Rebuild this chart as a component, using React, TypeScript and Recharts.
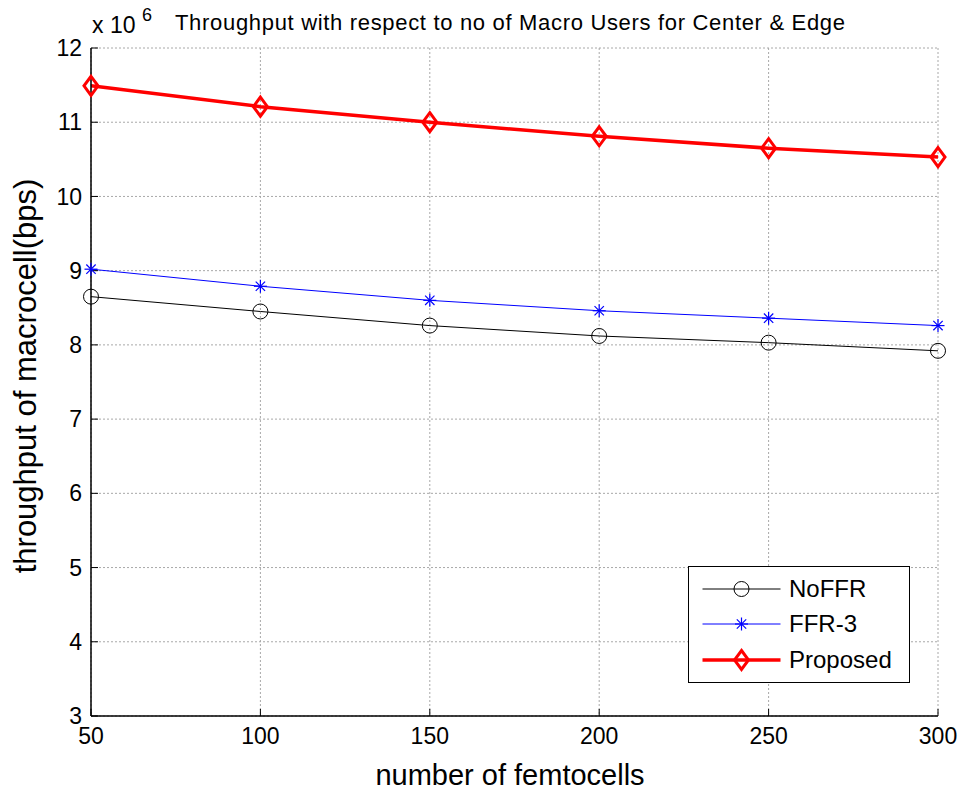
import { LineChart, Line, XAxis, YAxis, CartesianGrid, Legend } from 'recharts';

const femtocells = [50, 100, 150, 200, 250, 300];
const noFFR = [8.65e6, 8.45e6, 8.26e6, 8.12e6, 8.03e6, 7.92e6];
const ffr3 = [9.02e6, 8.79e6, 8.6e6, 8.46e6, 8.36e6, 8.26e6];
const proposed = [11.49e6, 11.21e6, 11.0e6, 10.81e6, 10.65e6, 10.53e6];

const xTicks = [50, 100, 150, 200, 250, 300];
const yTicks = [3e6, 4e6, 5e6, 6e6, 7e6, 8e6, 9e6, 10e6, 11e6, 12e6];

const data = femtocells.map((n, i) => ({ n, noFFR: noFFR[i], ffr3: ffr3[i], proposed: proposed[i] }));

const FONT = '"Liberation Sans", Arial, Helvetica, sans-serif';

type MarkerProps = { cx?: number; cy?: number };

function CircleMarker({ cx = 0, cy = 0 }: MarkerProps) {
  return <circle cx={cx} cy={cy} r={7.5} fill="none" stroke="#000" strokeWidth={1} />;
}

function StarMarker({ cx = 0, cy = 0 }: MarkerProps) {
  const r = 6.5;
  const d = r * 0.72;
  return (
    <g stroke="#0000ff" strokeWidth={1.2}>
      <line x1={cx} y1={cy - r} x2={cx} y2={cy + r} />
      <line x1={cx - r} y1={cy} x2={cx + r} y2={cy} />
      <line x1={cx - d} y1={cy - d} x2={cx + d} y2={cy + d} />
      <line x1={cx - d} y1={cy + d} x2={cx + d} y2={cy - d} />
    </g>
  );
}

function DiamondMarker({ cx = 0, cy = 0 }: MarkerProps) {
  const rx = 7;
  const ry = 9.5;
  return (
    <path
      d={`M${cx},${cy - ry}L${cx + rx},${cy}L${cx},${cy + ry}L${cx - rx},${cy}Z`}
      fill="none"
      stroke="#ff0000"
      strokeWidth={3}
    />
  );
}

const series = [
  { key: 'noFFR', name: 'NoFFR', color: '#000000', width: 1, Marker: CircleMarker },
  { key: 'ffr3', name: 'FFR-3', color: '#0000ff', width: 1, Marker: StarMarker },
  { key: 'proposed', name: 'Proposed', color: '#ff0000', width: 3.5, Marker: DiamondMarker },
];

function LegendBox() {
  return (
    <div
      style={{
        width: 222,
        height: 117,
        boxSizing: 'border-box',
        border: '1.5px solid #000',
        background: '#fff',
        paddingTop: 4,
      }}
    >
      {series.map((s) => (
        <div key={s.key} style={{ display: 'flex', alignItems: 'center', height: 35.5 }}>
          <svg width={100} height={30} style={{ display: 'block' }}>
            <line x1={13.5} x2={91.5} y1={15} y2={15} stroke={s.color} strokeWidth={s.width} />
            <s.Marker cx={52.5} cy={15} />
          </svg>
          <span style={{ fontSize: 24, fontFamily: FONT, color: '#000', lineHeight: 1 }}>{s.name}</span>
        </div>
      ))}
    </div>
  );
}

const tickStyle = { fontSize: 23, fill: '#000', fontFamily: FONT };

export default function App() {
  return (
    <div style={{ position: 'absolute', left: 0, top: 0, width: 967, height: 793, background: '#fff' }}>
      <LineChart width={967} height={793} data={data} margin={{ top: 48, right: 29, left: 0, bottom: 0 }}>
        <CartesianGrid stroke="#a8a8a8" strokeDasharray="2 2" />
        <XAxis
          dataKey="n"
          type="number"
          domain={[50, 300]}
          ticks={xTicks}
          height={77}
          tick={tickStyle}
          tickSize={-7}
          tickMargin={19}
          axisLine={{ stroke: '#000', strokeWidth: 1.5 }}
          tickLine={{ stroke: '#000' }}
        />
        <XAxis
          xAxisId="top"
          orientation="top"
          dataKey="n"
          type="number"
          domain={[50, 300]}
          ticks={xTicks}
          height={0}
          tick={false}
          tickSize={-7}
          axisLine={{ stroke: '#000', strokeWidth: 1.5 }}
          tickLine={{ stroke: '#000' }}
        />
        <YAxis
          type="number"
          domain={[3e6, 12e6]}
          ticks={yTicks}
          width={91}
          tick={tickStyle}
          tickFormatter={(v: number) => String(v / 1e6)}
          tickSize={-7}
          tickMargin={16}
          axisLine={{ stroke: '#000', strokeWidth: 1.5 }}
          tickLine={{ stroke: '#000' }}
        />
        <YAxis
          yAxisId="right"
          orientation="right"
          type="number"
          domain={[3e6, 12e6]}
          ticks={yTicks}
          width={0}
          tick={false}
          tickSize={-7}
          axisLine={{ stroke: '#000', strokeWidth: 1.5 }}
          tickLine={{ stroke: '#000' }}
        />
        {series.map((s) => (
          <Line
            key={s.key}
            type="linear"
            dataKey={s.key}
            name={s.name}
            stroke={s.color}
            strokeWidth={s.width}
            isAnimationActive={false}
            activeDot={false}
            dot={(p: any) => <s.Marker key={`${s.key}-${p.index}`} cx={p.cx} cy={p.cy} />}
          />
        ))}
        <Legend
          layout="horizontal"
          verticalAlign="middle"
          align="center"
          content={() => <LegendBox />}
          wrapperStyle={{ left: 688, top: 566, width: 222, height: 117 }}
        />
      </LineChart>
      <svg
        width={967}
        height={793}
        style={{ position: 'absolute', left: 0, top: 0, pointerEvents: 'none' }}
        fontFamily={FONT}
      >
        <text x={175} y={30} fontSize={22} textLength={670} lengthAdjust="spacing" fill="#000">
          Throughput with respect to no of Macro Users for Center &amp; Edge
        </text>
        <text x={92} y={33} fontSize={23} fill="#000">
          x 10
        </text>
        <text x={142} y={21} fontSize={18} fill="#000">
          6
        </text>
        <text x={510} y={785} fontSize={29} textAnchor="middle" fill="#000">
          number of femtocells
        </text>
        <text transform="translate(36,376) rotate(-90)" x={0} y={0} fontSize={31} textAnchor="middle" fill="#000">
          throughput of macrocell(bps)
        </text>
      </svg>
    </div>
  );
}
